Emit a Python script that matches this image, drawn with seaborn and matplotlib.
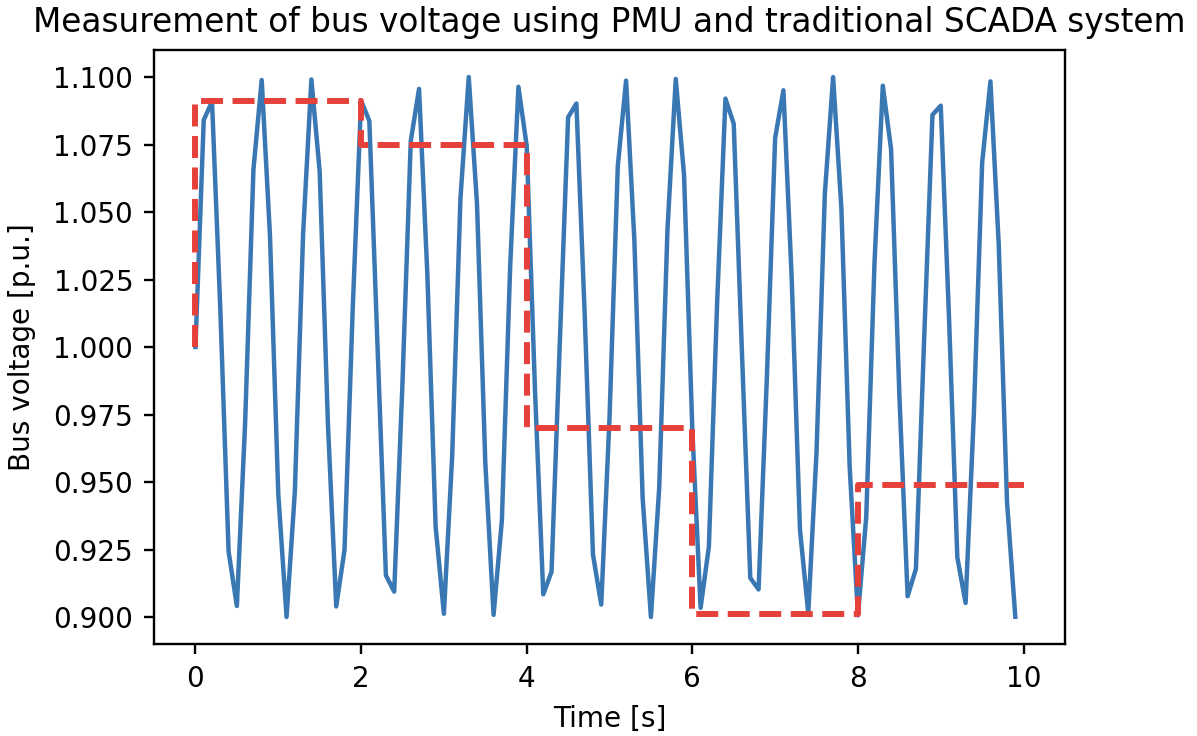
import numpy as np
import pandas as pd
import matplotlib
matplotlib.use("Agg")
import matplotlib.pyplot as plt
import seaborn as sns

# PMU samples, every 0.1 s
pmu_time = [round(0.1 * i, 1) for i in range(100)]
pmu_voltage = [
    1.0000, 1.0841, 1.0909, 1.0141, 0.9243, 0.9041, 0.9721, 1.0657, 1.0989, 1.0412,
    0.9456, 0.9000, 0.9463, 1.0420, 1.0991, 1.0650, 0.9712, 0.9039, 0.9249, 1.0150,
    1.0913, 1.0837, 0.9991, 0.9154, 0.9094, 0.9868, 1.0763, 1.0956, 1.0271, 0.9336,
    0.9012, 0.9596, 1.0551, 1.1000, 1.0529, 0.9572, 0.9008, 0.9357, 1.0296, 1.0964,
    1.0745, 0.9841, 0.9084, 0.9168, 1.0018, 1.0851, 1.0902, 1.0124, 0.9232, 0.9046,
    0.9738, 1.0670, 1.0987, 1.0396, 0.9441, 0.9000, 0.9478, 1.0436, 1.0993, 1.0637,
    0.9695, 0.9034, 0.9261, 1.0167, 1.0920, 1.0827, 0.9974, 0.9145, 0.9102, 0.9885,
    1.0774, 1.0951, 1.0254, 0.9323, 0.9015, 0.9612, 1.0566, 1.1000, 1.0514, 0.9556,
    0.9006, 0.9370, 1.0313, 1.0968, 1.0733, 0.9824, 0.9077, 0.9178, 1.0035, 1.0860,
    1.0894, 1.0106, 0.9221, 0.9052, 0.9755, 1.0683, 1.0984, 1.0380, 0.9427, 0.9001,
]

# SCADA samples, every 2 s
scada_time = [0, 2, 4, 6, 8, 10]
scada_voltage = [1.000, 1.091, 1.075, 0.970, 0.901, 0.949]

pmu = pd.DataFrame({"t": pmu_time, "v": pmu_voltage})
scada = pd.DataFrame({"t": scada_time, "v": scada_voltage})

plt.rcParams["font.size"] = 9.4

DPI = 214
fig = plt.figure(figsize=(1197 / DPI, 736 / DPI), dpi=DPI)
ax = fig.add_axes([0.1287, 0.125, 0.7610, 0.807])

sns.lineplot(data=pmu, x="t", y="v", ax=ax, color="#3a78b4", lw=1.5,
             sort=False, errorbar=None)
sns.lineplot(data=scada, x="t", y="v", ax=ax, color="#e6403a", lw=2,
             linestyle="--", drawstyle="steps-pre", sort=False, errorbar=None)

ax.set_xticks([0, 2, 4, 6, 8, 10])
ax.set_yticks([0.900, 0.925, 0.950, 0.975, 1.000, 1.025, 1.050, 1.075, 1.100])
ax.set_yticklabels([f"{v:.3f}" for v in ax.get_yticks()])
ax.set_xlabel("Time [s]")
ax.set_ylabel("Bus voltage [p.u.]", labelpad=6)
ax.set_title("Measurement of bus voltage using PMU and traditional SCADA system",
             fontsize=11)

fig.savefig("out.png", dpi=DPI)
